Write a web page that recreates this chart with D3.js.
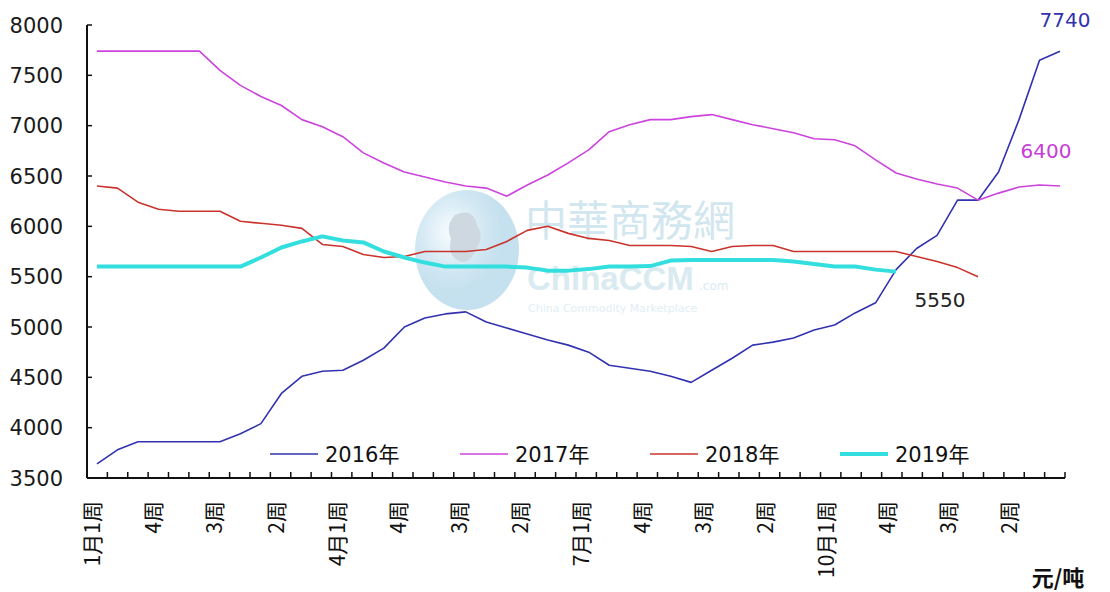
<!DOCTYPE html>
<html>
<head>
<meta charset="utf-8">
<script src="https://cdn.jsdelivr.net/npm/d3@7"></script>
<style>
  body { margin: 0; background: #fff; }
  svg { display: block; font-family: "DejaVu Sans", "Noto Sans CJK SC", sans-serif; }
</style>
</head>
<body>
<script>
// months / weeks -> 48 weekly categories, month shown only on week 1
const months = [1, 2, 3, 4, 5, 6, 7, 8, 9, 10, 11, 12];
const weeksInMonth = [1, 2, 3, 4];
const weeks = [];
months.forEach(m => weeksInMonth.forEach(w => weeks.push(w === 1 ? m + "月1周" : w + "周")));

const yTicks = [3500, 4000, 4500, 5000, 5500, 6000, 6500, 7000, 7500, 8000];
const seriesNames = ["2016年", "2017年", "2018年", "2019年"];

const s2016 = [3640, 3780, 3860, 3860, 3860, 3860, 3860, 3940, 4040, 4340, 4510, 4560,
  4570, 4670, 4790, 5000, 5090, 5130, 5150, 5050, 4990, 4930, 4870, 4820,
  4750, 4620, 4590, 4560, 4510, 4450, 4570, 4690, 4820, 4850, 4890, 4970,
  5020, 5140, 5240, 5570, 5780, 5910, 6260, 6260, 6540, 7060, 7650, 7740];
const s2017 = [7740, 7740, 7740, 7740, 7740, 7740, 7550, 7400, 7290, 7200, 7060, 6990,
  6890, 6730, 6630, 6540, 6490, 6440, 6400, 6380, 6300, 6410, 6510, 6630,
  6760, 6940, 7010, 7060, 7060, 7090, 7110, 7060, 7010, 6970, 6930, 6870,
  6860, 6800, 6660, 6530, 6470, 6420, 6380, 6260, 6330, 6390, 6410, 6400];
const s2018 = [6400, 6380, 6240, 6170, 6150, 6150, 6150, 6050, 6030, 6010, 5980, 5820,
  5800, 5720, 5690, 5700, 5750, 5750, 5750, 5770, 5850, 5960, 6000, 5930,
  5880, 5860, 5810, 5810, 5810, 5800, 5750, 5800, 5810, 5810, 5750, 5750,
  5750, 5750, 5750, 5750, 5700, 5650, 5590, 5500, null, null, null, null];
const s2019 = [5600, 5600, 5600, 5600, 5600, 5600, 5600, 5600, 5690, 5790, 5850, 5900,
  5860, 5840, 5750, 5690, 5640, 5600, 5600, 5600, 5600, 5590, 5560, 5560,
  5575, 5600, 5600, 5605, 5660, 5665, 5665, 5665, 5665, 5665, 5650, 5625,
  5600, 5600, 5570, 5550, null, null, null, null, null, null, null, null];

const colors = ["#3232b0", "#cc44dd", "#c8342c", "#33dede"];
const widths = [1.6, 1.6, 1.6, 4];

const W = 1110, H = 592;
const svg = d3.select("body").append("svg").attr("width", W).attr("height", H);

const plotL = 87, plotR = 1065, plotT = 25, plotB = 478;

// week labels repeat ("2周" ...), so scales work on the week index
const idx = d3.range(weeks.length);
const y = d3.scaleLinear().domain([3500, 8000]).range([plotB, plotT]);
const xBand = d3.scaleBand().domain(idx).range([plotL, plotR]);
const x = d3.scalePoint().domain(idx).range([97, 1060]);

// watermark
const defs = svg.append("defs");
const grad = defs.append("radialGradient").attr("id", "globe").attr("cx", "35%").attr("cy", "35%");
grad.append("stop").attr("offset", "0%").attr("stop-color", "#f4fbff");
grad.append("stop").attr("offset", "60%").attr("stop-color", "#a9d4ea");
grad.append("stop").attr("offset", "100%").attr("stop-color", "#8cc2de");
const wm = svg.append("g").attr("opacity", 0.5);
wm.append("ellipse").attr("cx", 467).attr("cy", 250).attr("rx", 52).attr("ry", 60).attr("fill", "url(#globe)");
wm.append("path").attr("d", "M455,215 q18,-8 22,10 q8,12 -2,26 q-6,14 -16,10 q-12,-6 -8,-22 q-6,-14 4,-24z").attr("fill", "#9fb3c4");
wm.append("text").attr("x", 525).attr("y", 236).attr("font-size", 42).attr("fill", "#a6cfe0")
  .attr("font-family", "Noto Sans CJK TC").text("中華商務網");
wm.append("text").attr("x", 527).attr("y", 290).attr("font-size", 33).attr("font-weight", "bold")
  .attr("fill", "#b4d6e4").attr("font-family", "Liberation Sans").text("ChinaCCM");
wm.append("text").attr("x", 699).attr("y", 290).attr("font-size", 12).attr("fill", "#b4d6e4").text(".com");
wm.append("text").attr("x", 528).attr("y", 312).attr("font-size", 11).attr("fill", "#c4e0ec")
  .text("China Commodity Marketplace");

// y axis
const yAxis = svg.append("g");
yAxis.append("line").attr("x1", plotL).attr("x2", plotL).attr("y1", plotT).attr("y2", plotB)
  .attr("stroke", "#111").attr("stroke-width", 2);
yAxis.selectAll(".yt").data(yTicks).join("line")
  .attr("x1", plotL).attr("x2", plotL + 5).attr("y1", d => y(d)).attr("y2", d => y(d))
  .attr("stroke", "#111").attr("stroke-width", 1.5);
yAxis.selectAll(".yl").data(yTicks).join("text")
  .attr("x", 63).attr("y", d => y(d)).attr("dy", "0.36em").attr("text-anchor", "end")
  .attr("font-size", 21).attr("fill", "#1a1a1a").text(d => d);

// x axis
const xAxis = svg.append("g");
xAxis.append("line").attr("x1", plotL).attr("x2", plotR).attr("y1", plotB).attr("y2", plotB)
  .attr("stroke", "#111").attr("stroke-width", 2);
xAxis.selectAll(".xt").data(idx).join("line")
  .attr("x1", i => xBand(i) + xBand.bandwidth()).attr("x2", i => xBand(i) + xBand.bandwidth())
  .attr("y1", plotB).attr("y2", plotB - 6)
  .attr("stroke", "#111").attr("stroke-width", 1.5);
xAxis.selectAll(".xl").data(idx.filter(i => i % 3 === 0)).join("text")
  .attr("transform", i => `translate(${xBand(i) + xBand.bandwidth() / 2 - 6},501) rotate(-90)`)
  .attr("text-anchor", "end").attr("dominant-baseline", "central")
  .attr("font-size", 21).attr("fill", "#111").attr("font-family", "Noto Sans CJK SC")
  .text(i => weeks[i]);

// lines
const allSeries = [s2016, s2017, s2018, s2019];
const line = d3.line().defined(d => d[1] != null).x(d => x(d[0])).y(d => y(d[1]));
allSeries.forEach((s, k) => {
  svg.append("path")
    .datum(idx.map(i => [i, s[i]]))
    .attr("fill", "none").attr("stroke", colors[k]).attr("stroke-width", widths[k])
    .attr("stroke-linejoin", "round").attr("d", line);
});

// end labels
svg.append("text").attr("x", 1065).attr("y", 27).attr("text-anchor", "middle")
  .attr("font-size", 20).attr("fill", colors[0]).text(s2016[47]);
svg.append("text").attr("x", 1046).attr("y", 158).attr("text-anchor", "middle")
  .attr("font-size", 20).attr("fill", "#c83cd8").text(s2017[47]);
svg.append("text").attr("x", 940).attr("y", 307).attr("text-anchor", "middle")
  .attr("font-size", 20).attr("fill", "#222").text(s2019[39]);

// legend
const legX = [270, 460, 650, 840];
const leg = svg.append("g");
seriesNames.forEach((n, k) => {
  leg.append("line").attr("x1", legX[k]).attr("x2", legX[k] + 48).attr("y1", 454).attr("y2", 454)
    .attr("stroke", colors[k]).attr("stroke-width", widths[k]);
  leg.append("text").attr("x", legX[k] + 55).attr("y", 454).attr("dy", "0.36em")
    .attr("font-size", 21).attr("fill", "#111").text(n);
});

// unit
svg.append("text").attr("x", 1058).attr("y", 586).attr("text-anchor", "middle")
  .attr("font-size", 22).attr("font-weight", "bold").attr("fill", "#111")
  .attr("font-family", "Noto Sans CJK SC").text("元/吨");
</script>
</body>
</html>
